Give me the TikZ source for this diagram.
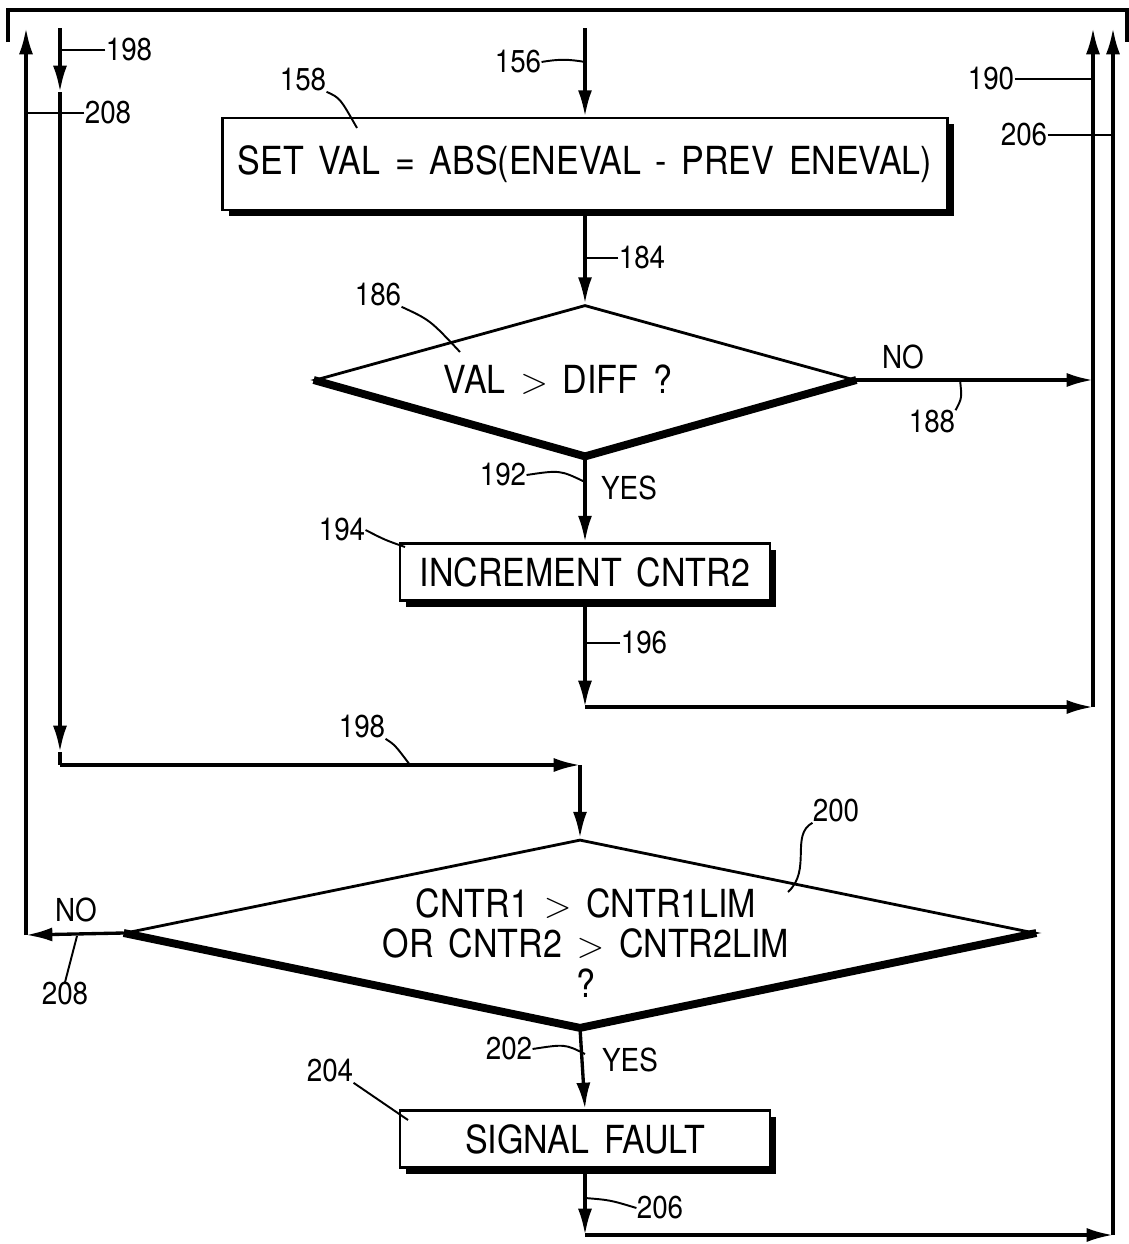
\documentclass[tikz,border=0pt]{standalone}
\usepackage{fontspec}
\setmainfont{TeX Gyre Heros}[FakeStretch=0.88]
\usetikzlibrary{arrows.meta,shapes.geometric,shadows}

\newcommand{\boxfont}{\fontsize{22}{23}\selectfont\spaceskip=0.38em\relax}
\newcommand{\numfont}{\fontsize{18}{20}\selectfont}
\newcommand{\gtr}{$>$}

\tikzset{
  flow/.style={line width=1.9pt,-{Latex[length=15pt,width=8pt]}},
  wire/.style={line width=1.9pt},
  lead/.style={line width=1.1pt},
  procbox/.style={draw,line width=1.6pt,fill=white,inner sep=0pt,font=\boxfont,
    drop shadow={shadow xshift=3.5pt,shadow yshift=-3.5pt,opacity=1,fill=black}},
  decision/.style={draw,diamond,line width=1.6pt,inner sep=0pt},
  heavy/.style={line width=4.5pt,line join=round},
  txt/.style={font=\boxfont,inner sep=0pt,align=center},
  num/.style={font=\numfont,inner sep=0pt},
}

\begin{document}
\begin{tikzpicture}[x=0.02cm,y=-0.02cm]
\useasboundingbox (0,0) rectangle (1129,1244);

% frame of the page above
\draw[wire] (8,42) -- (8,10) -- (1127,10) -- (1127,42);

% boxes and decisions
\node[procbox,minimum width=14.5cm,minimum height=1.84cm] (setval) at (585,164)
  {SET VAL = ABS(ENEVAL - PREV ENEVAL)};
\node[decision,minimum width=10.8cm,minimum height=3cm] (diff) at (585,380) {};
\draw[heavy] (diff.west) -- (diff.south) -- (diff.east);
\node[txt] (difftxt) at (558,380) {VAL \gtr{} DIFF ?};
\node[procbox,minimum width=7.4cm,minimum height=1.14cm] (incr) at (585,572) {INCREMENT CNTR2};
\node[decision,minimum width=18.2cm,minimum height=3.74cm] (lim) at (580,933) {};
\draw[heavy] (lim.west) -- (lim.south) -- (lim.east);
\node[txt] (limtxt) at (586,943) {CNTR1 \gtr{} CNTR1LIM\\OR CNTR2 \gtr{} CNTR2LIM\\?};
\node[procbox,minimum width=7.4cm,minimum height=1.14cm] (fault) at (585,1139) {SIGNAL FAULT};

% coordinates of the loop lines
\coordinate (in156) at (585,28);
\coordinate (l198top) at (60,28);
\coordinate (l198a) at (60,92);
\coordinate (l198b) at (60,752);
\coordinate (l198c) at (60,765);
\coordinate (j198) at (580,765);
\coordinate (l208c) at (26,935);
\coordinate (l208top) at (26,28);
\coordinate (r190top) at (1093,28);
\coordinate (j196) at (585,707);
\coordinate (r206top) at (1113,28);
\coordinate (j206) at (585,1235);

% main flow
\draw[flow] (in156) -- (setval.north);
\draw[flow] (setval.south) -- (diff.north);
\draw[flow] (diff.east) -- (diff.east -| r190top);
\draw[flow] (diff.south) -- (incr.north);
\draw[flow] (incr.south) -- (j196);
\draw[flow] (j196) -- (j196 -| r190top);
\draw[flow] (j196 -| r190top) -- (r190top);
\draw[flow] (l198top) -- (l198a);
\draw[flow] (l198a) -- (l198b);
\draw[wire] (l198b) -- (l198c);
\draw[flow] (l198c) -- (j198);
\draw[flow] (j198) -- (lim.north);
\draw[flow] (lim.west) -- (l208c);
\draw[flow] (l208c) -- (l208top);
\draw[flow] (lim.south) -- (fault.north);
\draw[flow] (fault.south) -- (j206);
\draw[flow] (j206) -- (j206 -| r206top);
\draw[flow] (j206 -| r206top) -- (r206top);

% branch words
\node[num] (no1) at (903,357) {NO};
\node[num] (yes1) at (629,488) {YES};
\node[num] (no2) at (76,910) {NO};
\node[num] (yes2) at (630,1060) {YES};

% reference numerals
\node[num] (n198a) at (129,50) {198};
\draw[lead] (n198a.west) -- (l198top |- n198a.west);
\node[num] (n208a) at (108,113) {208};
\draw[lead] (n208a.west) -- (l208top |- n208a.west);
\node[num] (n156) at (518,62) {156};
\draw[lead] (n156.east) to[bend left=10] (in156 |- n156.east);
\node[num] (n158) at (303,80) {158};
\coordinate (p158) at (357,128);
\draw[lead] (n158.south east) .. controls (340,98) .. (p158);
\node[num] (n190) at (991,79) {190};
\draw[lead] (n190.east) -- (r190top |- n190.east);
\node[num] (n206a) at (1024,135) {206};
\draw[lead] (n206a.east) -- (r206top |- n206a.east);
\node[num] (n184) at (642,258) {184};
\draw[lead] (n184.west) -- (in156 |- n184.west);
\node[num] (n186) at (378,295) {186};
\coordinate (p186) at (460,352);
\draw[lead] (n186.south east) .. controls (430,320) .. (p186);
\node[num] (n188) at (932,422) {188};
\coordinate (p188) at (960,380);
\draw[lead] (n188.north east) .. controls (962,398) .. (p188);
\node[num] (n192) at (503,475) {192};
\coordinate (p192) at (585,482);
\draw[lead] (n192.east) .. controls (560,470) .. (p192);
\node[num] (n194) at (342,530) {194};
\coordinate (p194) at (405,547);
\draw[lead] (n194.east) .. controls (385,540) .. (p194);
\node[num] (n196) at (644,643) {196};
\draw[lead] (n196.west) -- (j196 |- n196.west);
\node[num] (n198b) at (362,727) {198};
\coordinate (p198) at (410,765);
\draw[lead] (n198b.south east) .. controls (395,745) .. (p198);
\node[num] (n200) at (836,811) {200};
\coordinate (p200) at (788,892);
\draw[lead] (n200.south west) .. controls (790,835) and (812,870) .. (p200);
\node[num] (n208b) at (65,994) {208};
\coordinate (p208) at (77,936);
\draw[lead] (n208b.north) -- (p208);
\node[num] (n202) at (509,1049) {202};
\coordinate (p202) at (585,1054);
\draw[lead] (n202.east) .. controls (565,1044) .. (p202);
\node[num] (n204) at (330,1071) {204};
\coordinate (p204) at (408,1120);
\draw[lead] (n204.south east) -- (p204);
\node[num] (n206b) at (660,1208) {206};
\coordinate (p206) at (585,1198);
\draw[lead] (n206b.west) .. controls (610,1200) .. (p206);
\end{tikzpicture}
\end{document}
